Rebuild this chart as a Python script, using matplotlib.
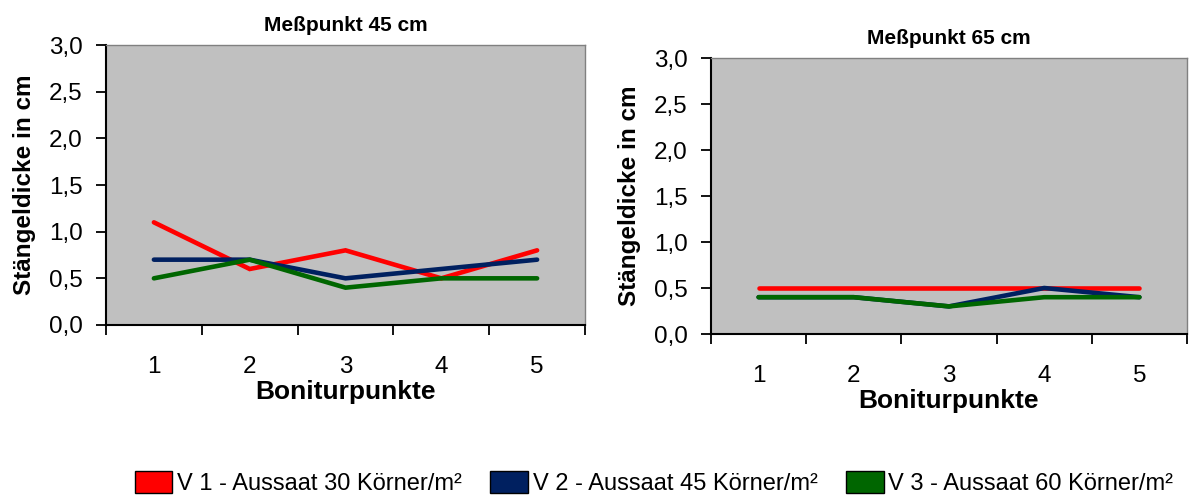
import matplotlib
matplotlib.use("Agg")
import matplotlib.pyplot as plt
from matplotlib.patches import Patch
from matplotlib.ticker import FuncFormatter, FixedLocator

plt.rcParams['font.family'] = ['Liberation Sans', 'DejaVu Sans']

# Boniturpunkte
punkte = [1, 2, 3, 4, 5]

# Meßpunkt 45 cm
v1_45 = [1.1, 0.6, 0.8, 0.5, 0.8]
v2_45 = [0.7, 0.7, 0.5, 0.6, 0.7]
v3_45 = [0.5, 0.7, 0.4, 0.5, 0.5]

# Meßpunkt 65 cm
v1_65 = [0.5, 0.5, 0.5, 0.5, 0.5]
v2_65 = [0.4, 0.4, 0.3, 0.5, 0.4]
v3_65 = [0.4, 0.4, 0.3, 0.4, 0.4]

labels = ["V 1 - Aussaat 30 Körner/m²",
          "V 2 - Aussaat 45 Körner/m²",
          "V 3 - Aussaat 60 Körner/m²"]
colors = ["#FF0000", "#002060", "#006600"]
yticks = [0.0, 0.5, 1.0, 1.5, 2.0, 2.5, 3.0]


def comma(v, pos):
    return f"{v:.1f}".replace(".", ",")


def draw(ax, series, title):
    ax.set_facecolor("#C0C0C0")
    for vals, c in zip(series, colors):
        ax.plot(punkte, vals, color=c, lw=3.3, solid_capstyle="round",
                solid_joinstyle="miter")
    ax.set_xlim(0.5, 5.5)
    ax.set_ylim(0, 3.0)
    ax.set_yticks(yticks)
    ax.yaxis.set_major_formatter(FuncFormatter(comma))
    ax.set_xticks(punkte)
    ax.xaxis.set_minor_locator(FixedLocator([0.5, 1.5, 2.5, 3.5, 4.5, 5.5]))
    ax.tick_params(axis="x", which="major", length=0, pad=22, labelsize=17.5)
    ax.tick_params(axis="x", which="minor", length=7, width=1.3, direction="out")
    ax.tick_params(axis="y", length=7, width=1.3, pad=10, labelsize=17.5)
    for s in ("left", "bottom"):
        ax.spines[s].set_linewidth(1.5)
        ax.spines[s].set_color("black")
    for s in ("top", "right"):
        ax.spines[s].set_linewidth(1)
        ax.spines[s].set_color("#808080")
    ax.set_title(title, fontsize=15, fontweight="bold", pad=10)
    ax.set_xlabel("Boniturpunkte", fontsize=19, fontweight="bold", labelpad=2)
    ax.set_ylabel("Stängeldicke in cm", fontsize=17.5, fontweight="bold", labelpad=9)


fig = plt.figure(figsize=(11.89, 4.98), dpi=100)
ax1 = fig.add_axes([106 / 1189, 1 - 325 / 498, 479 / 1189, 280 / 498])
ax2 = fig.add_axes([711 / 1189, 1 - 334 / 498, 476 / 1189, 276 / 498])

draw(ax1, [v1_45, v2_45, v3_45], "Meßpunkt 45 cm")
draw(ax2, [v1_65, v2_65, v3_65], "Meßpunkt 65 cm")

handles = [Patch(facecolor=c, edgecolor="black", lw=1) for c in colors]
fig.legend(handles, labels, loc="center", bbox_to_anchor=(654 / 1189, 1 - 483 / 498),
           ncol=3, frameon=False, fontsize=17, handlelength=1.6, handleheight=1.1,
           handletextpad=0.2, columnspacing=1.2)

fig.savefig("out.png", dpi=100)
